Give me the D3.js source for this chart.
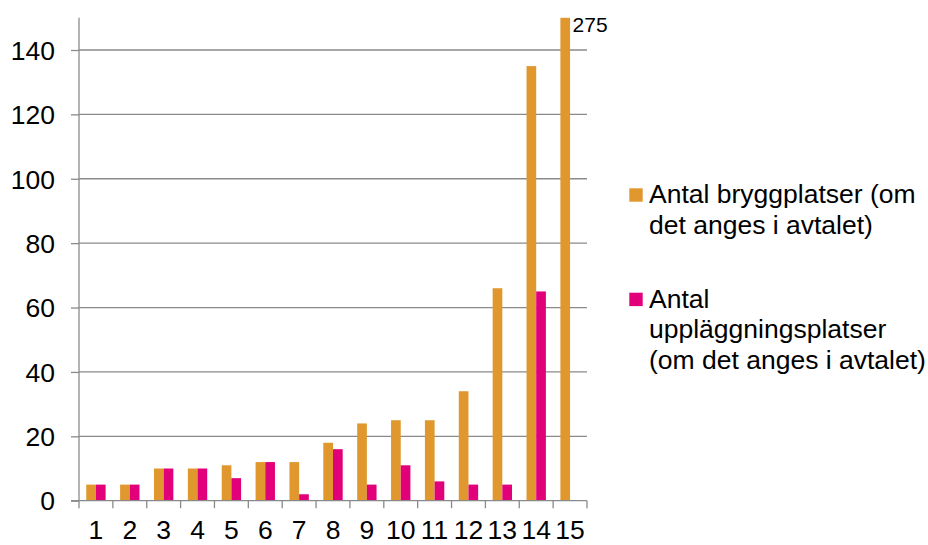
<!DOCTYPE html>
<html><head><meta charset="utf-8">
<script src="https://cdn.jsdelivr.net/npm/d3@7"></script>
<style>
html,body{margin:0;padding:0;background:#fff;}
svg{display:block;font-family:"Liberation Sans",Arial,sans-serif;}
</style></head>
<body>
<svg id="chart" width="928" height="545"></svg>
<script>
const categories = ["1","2","3","4","5","6","7","8","9","10","11","12","13","14","15"];
const bryggplatser = [5,5,10,10,11,12,12,18,24,25,25,34,66,135,275];
const upplaggningsplatser = [5,5,10,10,7,12,2,16,5,11,6,5,5,65,0];
const seriesNames = [
  ["Antal bryggplatser (om", "det anges i avtalet)"],
  ["Antal", "uppläggningsplatser", "(om det anges i avtalet)"]
];
const seriesColors = ["#E0982E", "#E2007A"];
const yTicks = [0,20,40,60,80,100,120,140];
const yMax = 150;

(function(){
const svg = d3.select("#chart");
const pl = 79, pr = 587, pt = 17.8, pb = 500.7;
const gridColor = "#8a8a8a";

const x0 = d3.scaleBand().domain(categories).range([pl, pr]).paddingInner(0.428).paddingOuter(0.214);
const x1 = d3.scaleBand().domain([0,1]).range([0, x0.bandwidth()]);
const y = d3.scaleLinear().domain([0, yMax]).range([pb, pt]).clamp(true);

// gridlines
svg.append("g").selectAll("line").data(yTicks.filter(d=>d>0)).join("line")
  .attr("x1", pl).attr("x2", pr)
  .attr("y1", d=>y(d)).attr("y2", d=>y(d))
  .attr("stroke", gridColor).attr("stroke-width", 1.3);

// bars
const seriesData = [bryggplatser, upplaggningsplatser];
const g = svg.append("g");
categories.forEach((c, i) => {
  seriesData.forEach((s, k) => {
    const v = s[i];
    if (!v) return;
    g.append("rect")
      .attr("x", x0(c) + x1(k))
      .attr("width", x1.bandwidth())
      .attr("y", y(v))
      .attr("height", y(0) - y(v))
      .attr("fill", seriesColors[k]);
  });
});

// clipped label
categories.forEach((c, i) => {
  const v = bryggplatser[i];
  if (v > yMax) {
    svg.append("text")
      .attr("x", x0(c) + x1(0) + x1.bandwidth() + 2.5)
      .attr("y", y(yMax) + 14.5)
      .attr("font-size", 21)
      .attr("fill", "#000")
      .text(v);
  }
});

// y axis
const yAxis = d3.axisLeft(y).tickValues(yTicks).tickSize(8).tickPadding(16).tickFormat(d3.format("d"));
const ya = svg.append("g").attr("transform", `translate(${pl},0)`).call(yAxis);
ya.select(".domain").attr("stroke", gridColor).attr("stroke-width", 1.3).attr("d", `M0,${pt}V${pb}`);
ya.selectAll(".tick line").attr("stroke", gridColor).attr("stroke-width", 1.3);
ya.selectAll(".tick text").attr("font-size", 26.5).attr("fill", "#000").attr("font-family", "Liberation Sans, Arial, sans-serif").attr("dy", "0.35em");

// x axis baseline and ticks
svg.append("line").attr("x1", pl - 8).attr("x2", pr).attr("y1", pb).attr("y2", pb)
  .attr("stroke", gridColor).attr("stroke-width", 1.3);
const boundaries = categories.map(c => x0(c) - x0.step()*x0.paddingInner()/2).concat([pr]);
boundaries[0] = pl;
svg.append("g").selectAll("line").data(boundaries).join("line")
  .attr("x1", d=>d).attr("x2", d=>d).attr("y1", pb).attr("y2", pb + 7.5)
  .attr("stroke", gridColor).attr("stroke-width", 1.3);
svg.append("g").selectAll("text").data(categories).join("text")
  .attr("x", d => x0(d) + x0.bandwidth()/2)
  .attr("y", 539.3)
  .attr("text-anchor", "middle")
  .attr("font-size", 26.5)
  .attr("fill", "#000")
  .text(d=>d);

// legend
const legendTops = [188.3, 292.7];
const lineH = 30.5;
seriesNames.forEach((lines, k) => {
  svg.append("rect").attr("x", 629.3).attr("y", legendTops[k]).attr("width", 13.4).attr("height", 13.4)
    .attr("fill", seriesColors[k]);
  const t = svg.append("text").attr("x", 649).attr("y", legendTops[k] + 15).attr("font-size", 26.5).attr("fill", "#000");
  lines.forEach((ln, j) => {
    t.append("tspan").attr("x", 649).attr("y", legendTops[k] + 15 + j*lineH).text(ln);
  });
});
})();
</script>
</body></html>
